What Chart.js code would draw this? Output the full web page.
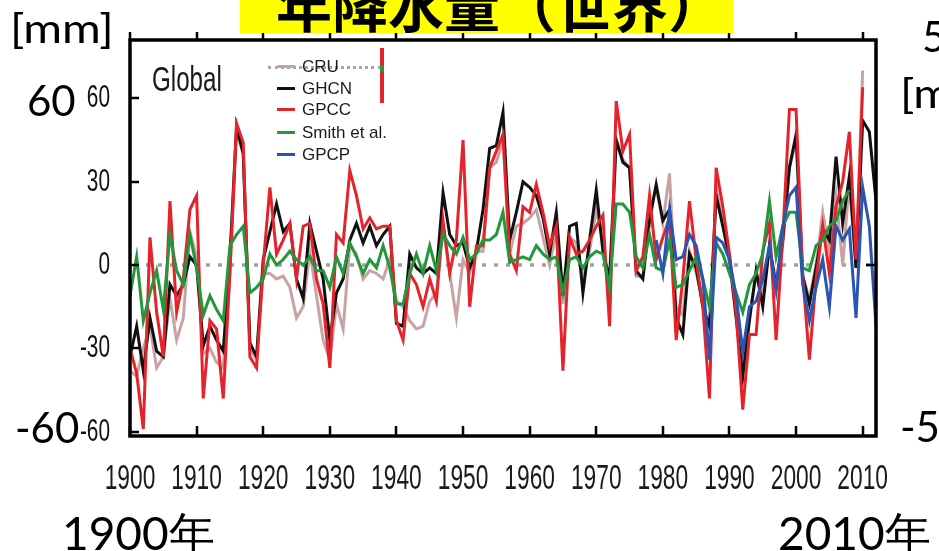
<!DOCTYPE html>
<html><head><meta charset="utf-8">
<script src="https://cdn.jsdelivr.net/npm/chart.js@4.4.1/dist/chart.umd.min.js"></script>
<style>
html,body{margin:0;padding:0;background:#fff;width:939px;height:551px;overflow:hidden;position:relative;}
#c{position:absolute;left:0;top:0;}
.t{position:absolute;white-space:nowrap;color:#000;font-family:Lato,'Open Sans',sans-serif;line-height:1;}
#titlebox{position:absolute;left:240px;top:0;width:493px;height:33px;background:#ffff00;overflow:hidden;}
#title{position:absolute;left:36px;top:-25px;font-family:'Noto Sans CJK JP',sans-serif;font-weight:700;font-size:56px;line-height:1;white-space:nowrap;color:#000;}
#global{position:absolute;left:152px;top:61px;font-family:'Liberation Sans',Arial,sans-serif;font-size:35px;line-height:1;color:#1a1a1a;transform:scaleX(0.69);transform-origin:0 0;}
.lg{position:absolute;font-family:'Liberation Sans',Arial,sans-serif;font-size:17px;line-height:1;color:#1a1a1a;white-space:nowrap;}
.ls{position:absolute;width:18px;height:3px;}
</style></head><body>
<canvas id="c" width="939" height="551"></canvas>
<div id="titlebox"><div id="title">年降水量（世界）</div></div>
<div class="t" style="left:10px;top:7px;font-size:41px;transform:scaleX(1.15);transform-origin:0 0;">[mm]</div>
<div class="t" style="left:27px;top:79px;font-size:42px;">60</div>
<div class="t" style="left:15px;top:406px;font-size:42px;">-60</div>
<div class="t" style="left:62px;top:510px;font-size:46px;">1900年</div>
<div class="t" style="left:778px;top:510px;font-size:46px;">2010年</div>
<div class="t" style="left:922px;top:15px;font-size:42px;">50</div>
<div class="t" style="left:900px;top:72px;font-size:41px;transform:scaleX(1.15);transform-origin:0 0;">[mm]</div>
<div class="t" style="left:900px;top:405px;font-size:42px;">-50</div>
<div id="global">Global</div>
<div id="legend"></div>
<script>
// ---- data (annual precipitation anomalies, mm) ----
const years = [
 1900,1901,1902,1903,1904,1905,1906,1907,1908,1909,
 1910,1911,1912,1913,1914,1915,1916,1917,1918,1919,
 1920,1921,1922,1923,1924,1925,1926,1927,1928,1929,
 1930,1931,1932,1933,1934,1935,1936,1937,1938,1939,
 1940,1941,1942,1943,1944,1945,1946,1947,1948,1949,
 1950,1951,1952,1953,1954,1955,1956,1957,1958,1959,
 1960,1961,1962,1963,1964,1965,1966,1967,1968,1969,
 1970,1971,1972,1973,1974,1975,1976,1977,1978,1979,
 1980,1981,1982,1983,1984,1985,1986,1987,1988,1989,
 1990,1991,1992,1993,1994,1995,1996,1997,1998,1999,
 2000,2001,2002,2003,2004,2005,2006,2007,2008,2009,
 2010,2011,2012];

const cru = [
 -38,-40,-30,-22,-37,-33,-12,-27,-19,12,
 3,-32,-30,-35,-37,-3,48,40,-30,-34,
 -3,-3,-5,-4,-8,-19,-15,5,-11,-27,
 -34,-14,-23,7,4,-5,-2,-3,-5,2,
 -13,-15,-20,-23,-22,-13,-10,14,-3,-19,
 2,-3,5,5,35,37,45,4,14,15,
 17,20,10,0,12,-14,10,8,-5,5,
 20,8,-15,45,38,35,-4,-4,20,28,
 15,33,-15,-18,5,-3,-12,-30,28,15,
 0,-18,-38,-18,-4,-10,6,-5,7,35,
 45,-4,-12,0,19,5,25,0,30,0,
 70,null,null];

const ghcn = [
 -33,-22,-38,-19,-31,-33,-7,-11,-7,3,
 0,-29,-22,-27,-31,3,50,40,-28,-33,
 2,12,22,12,15,-5,-12,15,5,-5,
 -27,-10,-5,9,15,8,14,7,11,14,
 -21,-22,4,-1,-3,-1,-3,26,11,7,
 8,-1,5,20,42,43,55,9,19,30,
 28,25,17,4,19,-11,14,15,-10,9,
 27,5,-5,45,37,35,-2,-5,16,29,
 16,20,-19,-25,4,-1,-15,-22,25,14,
 3,-19,-40,-20,-2,-15,7,-8,9,35,
 47,-4,-14,-1,13,9,39,15,32,-1,
 52,48,23];

const gpcc = [
 -30,-39,-59,10,-17,-33,23,-17,-5,20,
 25,-48,-20,-23,-48,-3,51,44,-33,-37,
 0,28,4,9,15,-5,14,15,-5,-14,
 -37,11,8,34,25,13,17,13,14,14,
 -20,-27,-3,-7,-15,-5,-13,16,-3,9,
 45,-15,7,7,35,41,47,4,-2,21,
 19,29,19,7,14,-38,10,4,5,9,
 14,18,-22,59,41,47,-2,3,25,2,
 10,17,-27,-5,23,2,-15,-48,35,21,
 4,-17,-52,-25,-25,5,15,-27,10,56,
 56,-4,-34,-5,14,-3,21,30,48,2,
 64,null,null];

const smith = [
 -11,3,-20,-10,-2,-16,11,-2,-7,11,
 -1,-18,-11,-16,-20,7,11,14,-10,-8,
 -5,4,0,2,5,2,0,3,-2,-2,
 -8,3,-3,8,3,-3,2,-1,7,-1,
 -14,-14,-3,4,-3,7,-2,11,7,4,
 10,2,4,9,9,11,19,1,2,3,
 2,7,4,2,3,-10,2,3,-1,3,
 5,4,-8,22,22,19,3,-1,11,-1,
 -2,9,-8,-7,-2,3,-5,-15,8,4,
 -3,-10,-17,-7,-3,4,23,3,14,19,
 19,-1,-2,7,9,14,16,23,27,null,
 null,null,null];

const gpcpStartYear = 1979;
const gpcp = [
 9,
 -3,20,2,3,11,7,-5,-34,10,8,
 2,-11,-31,-15,-13,-5,7,-9,14,25,
 28,-7,-20,-8,2,-15,14,9,13,-19,
 28,14,-22];

const seriesNames = ['CRU','GHCN','GPCC','Smith et al.','GPCP'];
const seriesColors = ['#c9a3a3','#111111','#e5232b','#24963c','#2b55b2'];
const xTickValues = [1900,1910,1920,1930,1940,1950,1960,1970,1980,1990,2000,2010];
const yTickValues = [-60,-30,0,30,60];

// ---- build ----
const toPts = (vals, start) => vals.map((v,i)=>({x:start+i, y:v}));
const seriesData = [
  toPts(cru, years[0]), toPts(ghcn, years[0]), toPts(gpcc, years[0]),
  toPts(smith, years[0]), toPts(gpcp, gpcpStartYear)
];
const datasets = seriesNames.map((name,i)=>({
  label:name, data:seriesData[i], borderColor:seriesColors[i], backgroundColor:seriesColors[i],
  borderWidth:3, pointRadius:0, tension:0, fill:false, spanGaps:false,
  borderJoinStyle:'miter', order:5-i
}));

// HTML legend built from series
const lgTops=[58,80,101,124,146];
const lgEl=document.getElementById('legend');
let lgHtml='<div style="position:absolute;left:268px;top:66px;width:113px;height:0;border-top:3px dotted #a8a8a8;"></div>'+
  '<div style="position:absolute;left:380px;top:48px;width:4px;height:55px;background:#e5232b;"></div>'+
  '<div style="position:absolute;left:380px;top:66px;width:4px;height:6px;background:#24963c;"></div>';
seriesNames.forEach((n,i)=>{
  const cy=lgTops[i]+8;
  lgHtml+=`<div class="ls" style="left:277px;top:${cy-1}px;background:${seriesColors[i]}"></div>`;
  lgHtml+=`<div class="lg" style="left:302px;top:${lgTops[i]}px">${n}</div>`;
});
lgEl.innerHTML=lgHtml;

const axisFont="'Liberation Sans',Arial,sans-serif";
const textSqueeze=0.65;

// condensed (narrow) rendering of the axis tick labels
const squeezePlugin={
  id:'squeeze',
  beforeDraw(chart){
    const ctx=chart.ctx;
    if(ctx._sq) return;
    ctx._sq=true;
    const proto=CanvasRenderingContext2D.prototype.fillText;
    ctx.fillText=function(t,x,y,mw){
      const w=this.measureText(t).width*textSqueeze;
      return proto.call(this,t,x,y,mw!==undefined?Math.min(mw,w):w);
    };
  }
};

const framePlugin={
  id:'frame',
  beforeDatasetsDraw(chart){
    const {ctx,chartArea:a,scales:{y}}=chart;
    const y0=y.getPixelForValue(0);
    ctx.save();
    ctx.strokeStyle='#a0a0a0'; ctx.lineWidth=3.5; ctx.setLineDash([4,8]);
    ctx.beginPath(); ctx.moveTo(a.left+4,y0); ctx.lineTo(a.right,y0); ctx.stroke();
    ctx.restore();
  },
  afterDatasetsDraw(chart){
    const {ctx,chartArea:a,scales:{x,y}}=chart;
    ctx.save();
    ctx.strokeStyle='#000'; ctx.lineWidth=3.5; ctx.setLineDash([]);
    ctx.strokeRect(a.left,a.top,a.right-a.left,a.bottom-a.top);
    ctx.lineWidth=2.5;
    ctx.beginPath();
    xTickValues.forEach(v=>{
      const px=Math.round(x.getPixelForValue(v));
      ctx.moveTo(px,a.bottom); ctx.lineTo(px,a.bottom-10);
      ctx.moveTo(px,a.top); ctx.lineTo(px,a.top-8);
    });
    yTickValues.forEach(v=>{
      const py=Math.round(y.getPixelForValue(v));
      ctx.moveTo(a.left,py); ctx.lineTo(a.left+9,py);
    });
    const p0=Math.round(y.getPixelForValue(0));
    ctx.moveTo(a.right,p0); ctx.lineTo(a.right-10,p0);
    ctx.stroke();
    ctx.restore();
  }
};

new Chart(document.getElementById('c'),{
  type:'line',
  data:{datasets},
  options:{
    responsive:false, animation:false, devicePixelRatio:1,
    layout:{padding:{left:0,top:40,right:63,bottom:0}},
    plugins:{legend:{display:false},tooltip:{enabled:false},title:{display:false}},
    scales:{
      x:{type:'linear',min:1900,max:2012,
        grid:{display:false},border:{display:false},
        afterBuildTicks:s=>{s.ticks=xTickValues.map(v=>({value:v}));},
        afterFit:s=>{s.height=115;},
        ticks:{autoSkip:false,maxRotation:0,minRotation:0,padding:14,color:'#1a1a1a',
          font:{family:axisFont,size:35},callback:v=>String(v)}
      },
      y:{type:'linear',min:-61.5,max:81,
        grid:{display:false},border:{display:false},
        afterBuildTicks:s=>{s.ticks=yTickValues.map(v=>({value:v}));},
        afterFit:s=>{s.width=130;},
        ticks:{padding:12,color:'#111',font:{family:axisFont,size:32},callback:v=>String(v)}
      }
    }
  },
  plugins:[squeezePlugin,framePlugin]
});
</script>
</body></html>
